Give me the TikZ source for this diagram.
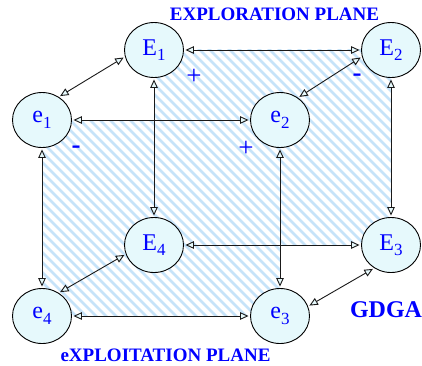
\documentclass[tikz,border=0pt]{standalone}
\usepackage{fontspec}
\setmainfont{Liberation Serif}
\usetikzlibrary{arrows.meta,shapes.geometric}
\definecolor{nodefill}{RGB}{230,249,252}
\definecolor{hatchblue}{RGB}{198,227,249}
\definecolor{txtblue}{RGB}{0,0,255}
\newcommand\sublab[2]{#1\raisebox{-5.5pt}{\fontsize{17}{17}\selectfont #2}}
\tikzset{
  state/.style={ellipse, draw=black, line width=0.9pt, fill=nodefill,
    minimum width=59pt, minimum height=55pt, inner sep=0pt,
    text=txtblue, font=\fontsize{24}{24}\selectfont},
  link/.style={draw=black!90, line width=0.9pt,
    {Triangle[length=8.5pt,width=7.5pt,fill=nodefill]}-{Triangle[length=8.5pt,width=7.5pt,fill=nodefill]},
    shorten <=1.5pt, shorten >=1.5pt},
  hatch/.style={draw=hatchblue, line width=2.6pt},
  planelabel/.style={text=txtblue, font=\fontsize{19}{19}\selectfont\bfseries, anchor=base, inner sep=0pt},
  sign/.style={text=txtblue, font=\fontsize{27}{27}\selectfont, inner sep=0pt}
}
\begin{document}
\begin{tikzpicture}[x=1pt,y=-1pt]
\useasboundingbox (0,0) rectangle (422,365);

% hatched planes
\begin{scope}
  \clip (154,49) rectangle (391,245) (42,120) rectangle (280,316);
  \foreach \k in {-30,...,36}
    \draw[hatch] (\k*10,0) -- ++(400,400);
\end{scope}

% exploration plane nodes
\node[state] (E1) at (154,50) {\sublab{E}{1}};
\node[state] (E2) at (391,50) {\sublab{E}{2}};
\node[state] (E3) at (391,245) {\sublab{E}{3}};
\node[state] (E4) at (154,245) {\sublab{E}{4}};
% exploitation plane nodes
\node[state] (e1) at (42,120) {\sublab{e}{1}};
\node[state] (e2) at (280,120) {\sublab{e}{2}};
\node[state] (e3) at (280,316) {\sublab{e}{3}};
\node[state] (e4) at (42,316) {\sublab{e}{4}};

% links inside each plane
\draw[link] (E1) -- (E2);
\draw[link] (E2) -- (E3);
\draw[link] (E4) -- (E3);
\draw[link] (E1) -- (E4);
\draw[link] (e1) -- (e2);
\draw[link] (e2) -- (e3);
\draw[link] (e4) -- (e3);
\draw[link] (e1) -- (e4);
% links between the planes
\draw[link] (e1.54) -- (E1.193);
\draw[link] (e2.51) -- (E2.193);
\draw[link] (e3.19) -- (E3.234);
\draw[link] (e4.54) -- (E4.198);

% labels
\node[planelabel] (top) at (274.5,20.7) {EXPLORATION PLANE};
\node[planelabel] (bot) at (165.5,361.5) {eXPLOITATION PLANE};
\node[planelabel, font=\fontsize{24}{24}\selectfont\bfseries] (gdga) at (386,317) {GDGA};

\node[sign] (p1) at (194,77) {+};
\node[sign] (m1) at (357,78) {\textbf{-}};
\node[sign] (m2) at (76,150) {\textbf{-}};
\node[sign] (p2) at (246,149) {+};
\end{tikzpicture}
\end{document}
